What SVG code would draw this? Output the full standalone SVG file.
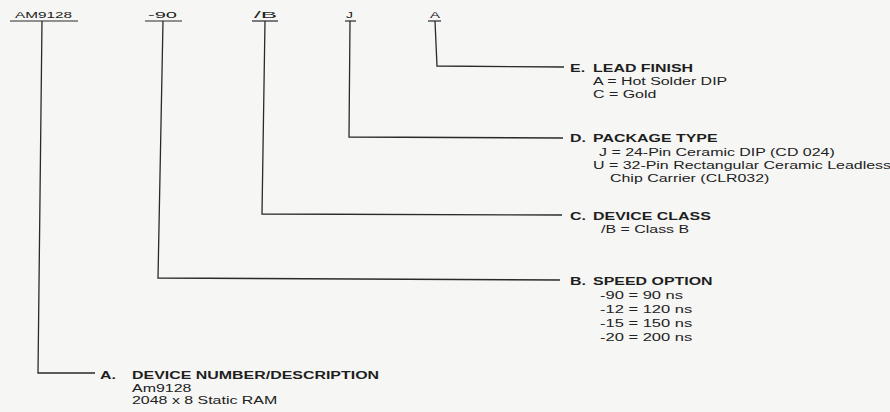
<svg xmlns="http://www.w3.org/2000/svg" width="890" height="412" viewBox="0 0 890 412">
<style>
  .bg{fill:#f6f6f4}
  .code{font-family:"Liberation Sans",Arial,sans-serif;font-size:9.5px;fill:#222}
  .ul{stroke:#2a2a2a;stroke-width:1.2;fill:none}
  .title{font-family:"Liberation Sans",Arial,sans-serif;font-size:11px;font-weight:bold;fill:#1e1e1e}
  .sub{font-family:"Liberation Sans",Arial,sans-serif;font-size:11px;fill:#222}
  .conn path{stroke:#2a2a2a;stroke-width:1.3;fill:none}
</style>
<rect class="bg" x="0" y="0" width="890" height="412"/>

<g id="connectors" class="conn">
  <path d="M42,21 L38,373 L95,373"/>
  <path d="M163,21 L158,278 L560,280"/>
  <path d="M265,21 L262,214 L562,215"/>
  <path d="M350,21 L349,137 L563,138"/>
  <path d="M435,21 L437,66 L564,67"/>
</g>

<g id="code-am9128">
  <text class="code" x="15" y="18" textLength="57" lengthAdjust="spacingAndGlyphs">AM9128</text>
  <line class="ul" x1="10" y1="21" x2="78" y2="21"/>
</g>
<g id="code-90">
  <text class="code" x="148" y="18" textLength="29" lengthAdjust="spacingAndGlyphs">-90</text>
  <line class="ul" x1="145" y1="21" x2="182" y2="21"/>
</g>
<g id="code-b">
  <text class="code" x="254" y="18" textLength="23" lengthAdjust="spacingAndGlyphs">/B</text>
  <line class="ul" x1="252" y1="21" x2="278" y2="21"/>
</g>
<g id="code-j">
  <text class="code" x="346" y="18" textLength="7" lengthAdjust="spacingAndGlyphs">J</text>
  <line class="ul" x1="345" y1="21" x2="356" y2="21"/>
</g>
<g id="code-a">
  <text class="code" x="430" y="18" textLength="10" lengthAdjust="spacingAndGlyphs">A</text>
  <line class="ul" x1="428" y1="21" x2="441" y2="21"/>
</g>

<g id="field-e">
  <text class="title" transform="translate(570,72) scale(1.45,1)"><tspan x="0">E.</tspan><tspan x="15.9">LEAD FINISH</tspan></text>
  <text class="sub" transform="translate(593,85) scale(1.45,1)">A = Hot Solder DIP</text>
  <text class="sub" transform="translate(593,98) scale(1.45,1)">C = Gold</text>
</g>

<g id="field-d">
  <text class="title" transform="translate(570,142) scale(1.45,1)"><tspan x="0">D.</tspan><tspan x="15.9">PACKAGE TYPE</tspan></text>
  <text class="sub" transform="translate(599,156) scale(1.45,1)">J = 24-Pin Ceramic DIP (CD 024)</text>
  <text class="sub" transform="translate(593,169) scale(1.45,1)">U = 32-Pin Rectangular Ceramic Leadless</text>
  <text class="sub" transform="translate(610,182) scale(1.45,1)">Chip Carrier (CLR032)</text>
</g>

<g id="field-c">
  <text class="title" transform="translate(570,220) scale(1.45,1)"><tspan x="0">C.</tspan><tspan x="15.9">DEVICE CLASS</tspan></text>
  <text class="sub" transform="translate(601,233) scale(1.45,1)">/B = Class B</text>
</g>

<g id="field-b">
  <text class="title" transform="translate(570,285) scale(1.45,1)"><tspan x="0">B.</tspan><tspan x="15.9">SPEED OPTION</tspan></text>
  <text class="sub" transform="translate(600,299) scale(1.5,1)">-90 = 90 ns</text>
  <text class="sub" transform="translate(600,313) scale(1.5,1)">-12 = 120 ns</text>
  <text class="sub" transform="translate(600,327) scale(1.5,1)">-15 = 150 ns</text>
  <text class="sub" transform="translate(600,341) scale(1.5,1)">-20 = 200 ns</text>
</g>

<g id="field-a">
  <text class="title" transform="translate(100,379) scale(1.45,1)"><tspan x="0">A.</tspan><tspan x="22.1">DEVICE NUMBER/DESCRIPTION</tspan></text>
  <text class="sub" transform="translate(132,392) scale(1.45,1)">Am9128</text>
  <text class="sub" transform="translate(132,404) scale(1.45,1)">2048 x 8 Static RAM</text>
</g>
</svg>
